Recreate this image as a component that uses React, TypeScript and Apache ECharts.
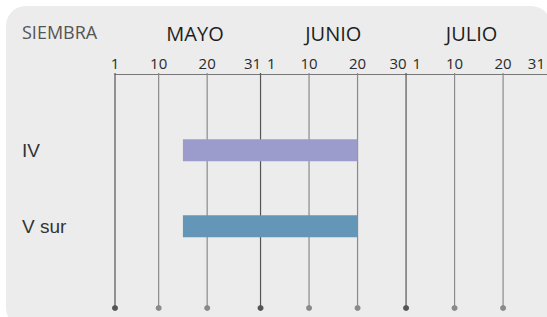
import React, { useEffect, useRef } from "react";
import * as echarts from "echarts";

// Day index: 1 May = 0, 1 June = 31, 1 July = 61
const tickDays = [0, 9, 19, 30, 31, 40, 50, 60, 61, 70, 80, 91];
const tickTexts = ["1", "10", "20", "31", "1", "10", "20", "30", "1", "10", "20", "31"];
const gridLineDays = [0, 9, 19, 30, 40, 50, 60, 70, 80];
const monthBoundaryDays = [0, 30, 60];
const monthNames = ["MAYO", "JUNIO", "JULIO"];
const monthLabelDays = [16.5, 45, 73.5];
const periods = ["IV", "V sur"];
const sowStart = [14, 14]; // 15 May
const sowEnd = [50, 50]; // 20 June
const barColors = ["#9b9ccb", "#6496b7"];

const Y_MIN = -0.02;
const Y_MAX = 3.08;

export default function App() {
  const ref = useRef<HTMLDivElement>(null);
  useEffect(() => {
    if (!ref.current) return;
    const chart = echarts.init(ref.current, undefined, { renderer: "svg" });
    const labelKind = (i: number) => {
      if (i === tickDays.length - 1) return "z";
      if (i + 1 < tickDays.length && tickDays[i + 1] === tickDays[i] + 1) return "e";
      if (i > 0 && tickDays[i - 1] === tickDays[i] - 1) return "s";
      return "n";
    };
    const tickFont = { fontFamily: "Open Sans", fontSize: 15, color: "#2a2a2a" };
    chart.setOption({
      animation: false,
      graphic: [
        {
          type: "rect",
          z: -10,
          silent: true,
          shape: { x: 6, y: 6, width: 545, height: 322, r: 20 },
          style: { fill: "#ececec" },
        },
      ],
      title: {
        text: "SIEMBRA",
        left: 22,
        top: 23,
        padding: 0,
        textStyle: { fontFamily: "Open Sans", fontSize: 18, fontWeight: "normal", color: "#555" },
      },
      grid: { left: 115, right: 0, top: 73, bottom: 9 },
      xAxis: [
        {
          type: "value",
          position: "top",
          min: 0,
          max: 94,
          axisLine: { show: true, lineStyle: { color: "#777", width: 1 } },
          axisTick: { show: false },
          splitLine: { show: false },
          axisLabel: {
            customValues: tickDays,
            margin: 3,
            ...tickFont,
            formatter: (v: number) => {
              let idx = 0;
              let best = Infinity;
              tickDays.forEach((d, i) => {
                if (Math.abs(d - v) < best) {
                  best = Math.abs(d - v);
                  idx = i;
                }
              });
              return `{${labelKind(idx)}|${tickTexts[idx]}}`;
            },
            rich: {
              n: { ...tickFont },
              e: { ...tickFont, padding: [0, 16, 0, 0] },
              s: { ...tickFont, padding: [0, 0, 0, 12] },
              z: { ...tickFont, padding: [0, 40, 0, 0] },
            },
          },
        },
        {
          type: "value",
          position: "top",
          min: 0,
          max: 94,
          axisLine: { show: false },
          axisTick: { show: false },
          splitLine: { show: false },
          axisLabel: {
            customValues: monthLabelDays,
            margin: 30,
            fontFamily: "Open Sans",
            fontSize: 20,
            color: "#1e1e1e",
            formatter: (v: number) => {
              let idx = 0;
              let best = Infinity;
              monthLabelDays.forEach((d, i) => {
                if (Math.abs(d - v) < best) {
                  best = Math.abs(d - v);
                  idx = i;
                }
              });
              return monthNames[idx];
            },
          },
        },
      ],
      yAxis: {
        type: "value",
        inverse: true,
        min: Y_MIN,
        max: Y_MAX,
        axisLine: { show: false },
        axisTick: { show: false },
        splitLine: { show: false },
        axisLabel: {
          customValues: periods.map((_, i) => i + 1),
          align: "left",
          margin: 93,
          fontFamily: "Liberation Sans",
          fontSize: 19,
          color: "#333",
          formatter: (v: number) => periods[Math.round(v) - 1] ?? "",
        },
      },
      series: [
        {
          type: "custom",
          xAxisIndex: 0,
          clip: false,
          silent: true,
          z: 1,
          encode: { x: 0, y: 1 },
          data: gridLineDays.map((d) => [d, 1]),
          renderItem: (params: any, api: any) => {
            const d = api.value(0);
            const top = api.coord([d, Y_MIN]);
            const bottom = api.coord([d, Y_MAX]);
            const color = monthBoundaryDays.includes(d) ? "#555" : "#8a8a8a";
            return {
              type: "group",
              children: [
                {
                  type: "line",
                  shape: { x1: top[0], y1: top[1], x2: bottom[0], y2: bottom[1] },
                  style: { stroke: color, lineWidth: 1.2 },
                },
                {
                  type: "circle",
                  shape: { cx: bottom[0], cy: bottom[1], r: 3 },
                  style: { fill: color },
                },
              ],
            };
          },
        },
        {
          type: "custom",
          xAxisIndex: 0,
          z: 3,
          encode: { x: [0, 1], y: 2 },
          data: periods.map((_, i) => [sowStart[i], sowEnd[i], i + 1]),
          renderItem: (params: any, api: any) => {
            const s = api.coord([api.value(0), api.value(2)]);
            const e = api.coord([api.value(1), api.value(2)]);
            const h = 22;
            return {
              type: "rect",
              shape: { x: s[0], y: s[1] - h / 2, width: e[0] - s[0], height: h },
              style: { fill: barColors[params.dataIndex] },
            };
          },
        },
      ],
    });
    return () => chart.dispose();
  }, []);
  return (
    <div
      style={{ position: "absolute", left: 0, top: 0, width: 547, height: 317, overflow: "hidden" }}
    >
      <div ref={ref} style={{ width: 571, height: 317 }} />
    </div>
  );
}
